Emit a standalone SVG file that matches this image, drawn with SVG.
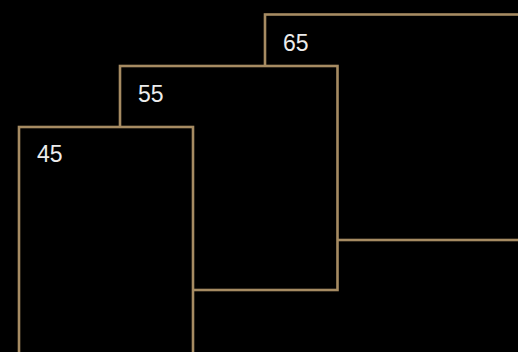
<svg xmlns="http://www.w3.org/2000/svg" width="518" height="352" viewBox="0 0 518 352">
<style>
.box{fill:#000;stroke:#a68b62;stroke-width:2.6}
.lbl{font-family:"Liberation Sans",Arial,sans-serif;font-size:23px;fill:#ececec}
</style>
<rect x="0" y="0" width="518" height="352" fill="#000"/>
<g id="node-65">
<rect class="box" x="265" y="14.5" width="270" height="225.5"/>
<text class="lbl" x="283" y="51">65</text>
</g>
<g id="node-55">
<rect class="box" x="120" y="66" width="217.5" height="224"/>
<text class="lbl" x="138" y="102">55</text>
</g>
<g id="node-45">
<rect class="box" x="19" y="127" width="174" height="240"/>
<text class="lbl" x="37" y="162">45</text>
</g>
<g id="connectors"></g>
</svg>
